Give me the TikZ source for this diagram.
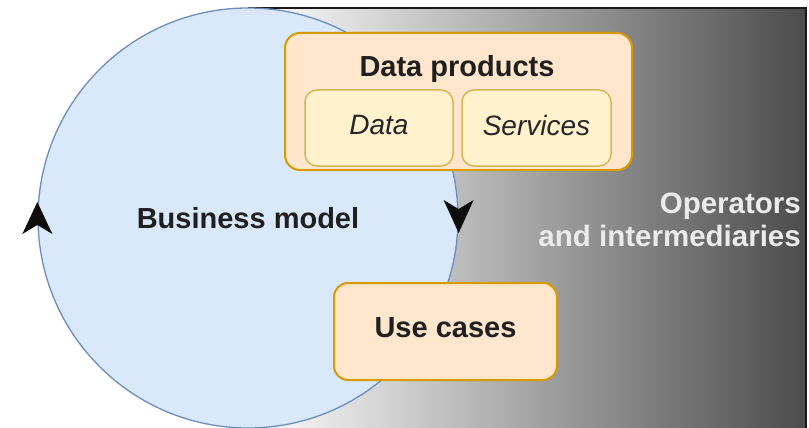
\documentclass[tikz,border=0pt]{standalone}
\usepackage{fontspec}
\setmainfont{Liberation Sans}
\definecolor{circfill}{HTML}{DAE8FC}
\definecolor{circline}{HTML}{6C8EBF}
\definecolor{boxfill}{HTML}{FFE6CC}
\definecolor{boxline}{HTML}{D79B00}
\definecolor{infill}{HTML}{FFF2CC}
\definecolor{inline}{HTML}{D6B656}
\definecolor{gradR}{HTML}{4C4C4C}
\definecolor{optext}{HTML}{EBEBEB}
\begin{document}
\begin{tikzpicture}[x=1pt,y=-1pt,
  outerbox/.style={draw=boxline, fill=boxfill, line width=2pt, rounded corners=15pt, inner sep=0pt},
  innerbox/.style={draw=inline, fill=infill, line width=1.5pt, rounded corners=12pt, inner sep=0pt,
     font=\fontsize{28}{32}\selectfont\itshape, text=black!85, text depth=6pt},
  lbl/.style={font=\fontsize{29}{33}\selectfont\bfseries, text=black!88, inner sep=0pt},
  tiparrow/.style={fill=black!95}]
\useasboundingbox (0,0) rectangle (809,428);
\begin{scope}
\clip (0,0) rectangle (809,428);
\path[left color=white, right color=gradR] (248,8.5) rectangle (806,440);
\draw[line width=2pt, draw=black!90] (248,8.5) -- (806,8.5) -- (806,440);
\node[circle, draw=circline, fill=circfill, line width=1.3pt, minimum size=420pt, inner sep=0pt,
      lbl] (bm) at (248,218) {Business model};
\end{scope}
% arrowheads on the circle
\fill[tiparrow, shift={(bm.west)}] (0,-16) -- (-15,16) -- (0,7) -- (15,16) -- cycle;
\fill[tiparrow, shift={(bm.east)}] (0,15) -- (-15,-18) -- (0,-9) -- (15,-18) -- cycle;
% data products
\node[outerbox, minimum width=347pt, minimum height=137pt] (dp) at (458.5,101.5) {};
\node[lbl, anchor=base] (dpt) at (457,77) {Data products};
\node[innerbox, minimum width=148pt, minimum height=76pt] (data) at (379,128) {Data};
\node[innerbox, minimum width=149pt, minimum height=76pt] (serv) at (536.5,128) {Services};
% use cases
\node[outerbox, rounded corners=14pt, minimum width=223pt, minimum height=97pt, lbl, text depth=7pt] (uc) at (445.5,331.5) {Use cases};
% operators
\node[lbl, font=\fontsize{29.5}{33}\selectfont\bfseries, text=optext, align=right, anchor=east] (op) at (801,219.5) {Operators\\and intermediaries};
\end{tikzpicture}
\end{document}
